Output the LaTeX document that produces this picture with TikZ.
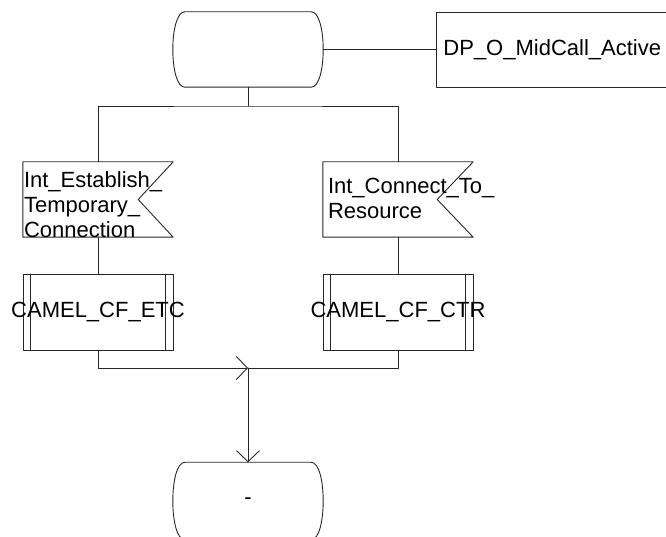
\documentclass[tikz,border=0pt]{standalone}
\usepackage{fontspec}
\setmainfont{Liberation Sans}
\usetikzlibrary{arrows.meta}

\begin{document}
\begin{tikzpicture}[x=1pt,y=1pt,line cap=round,line join=round,
  font=\fontsize{22}{25}\selectfont,
  line/.style={draw=black!85,line width=0.9pt},
  state/.style={minimum width=150pt,minimum height=75pt,inner sep=0pt},
  task/.style={line,minimum height=75pt,inner xsep=7pt,inner ysep=0pt,align=left},
  sigbox/.style={minimum width=150pt,minimum height=75pt,inner sep=0pt},
  sigtext/.style={inner sep=0pt,align=left},
  proc/.style={line,minimum width=150pt,minimum height=76pt,inner sep=0pt,
    path picture={\draw[line]
      ([xshift=7.5pt]path picture bounding box.north west) -- ([xshift=7.5pt]path picture bounding box.south west)
      ([xshift=-7.5pt]path picture bounding box.north east) -- ([xshift=-7.5pt]path picture bounding box.south east);}},
  arr/.style={-{Straight Barb[length=11pt,width=23pt]}}]
\useasboundingbox (0,0) rectangle (666,537);
\clip (0,0) rectangle (666,537);
% states and decision point
\node[state] (start) at (248,487.5) {};
\draw[line] ([xshift=12pt]start.north west) -- ([xshift=-12pt]start.north east)
  .. controls ([xshift=4pt]start.north east) and ([xshift=4pt]start.south east) .. ([xshift=-12pt]start.south east)
  -- ([xshift=12pt]start.south west)
  .. controls ([xshift=-4pt]start.south west) and ([xshift=-4pt]start.north west) .. cycle;
\node[task,anchor=west,text width=230pt] (dp) at (436,487.5) {DP\_O\_MidCall\_Active};
\node[state,minimum height=77pt] (endst) at (248,36) {-};
\draw[line] ([xshift=12pt]endst.north west) -- ([xshift=-12pt]endst.north east)
  .. controls ([xshift=4pt]endst.north east) and ([xshift=4pt]endst.south east) .. ([xshift=-12pt]endst.south east)
  -- ([xshift=12pt]endst.south west)
  .. controls ([xshift=-4pt]endst.south west) and ([xshift=-4pt]endst.north west) .. cycle;
% input signals
\node[sigbox] (etc) at (98,337.5) {};
\draw[line] (etc.north west) -- (etc.north east) -- ([xshift=-35pt]etc.east) -- (etc.south east) -- (etc.south west) -- cycle;
\node[sigtext,anchor=west] (etctxt) at ([xshift=1pt,yshift=-5pt]etc.west) {Int\_Establish\_\\Temporary\_\\Connection};
\node[sigbox] (ctr) at (398,337.5) {};
\draw[line] (ctr.north west) -- (ctr.north east) -- ([xshift=-36pt]ctr.east) -- (ctr.south east) -- (ctr.south west) -- cycle;
\node[sigtext,anchor=west] (ctrtxt) at ([xshift=5pt,yshift=1pt]ctr.west) {Int\_Connect\_To\_\\Resource};
% procedure calls
\node[proc] (petc) at (98,225) {\makebox[0pt]{CAMEL\_CF\_ETC}};
\node[proc] (pctr) at (398,225) {\makebox[0pt]{CAMEL\_CF\_CTR}};
% connectors
\coordinate (fork) at (248,431);
\coordinate (merge) at (248,169);
\draw[line] (start.east) -- (dp.west);
\draw[line] (start.south) -- (fork);
\draw[line] (etc.north) |- (fork) -| (ctr.north);
\draw[line] (etc.south) -- (petc.north);
\draw[line] (ctr.south) -- (pctr.north);
\draw[line,arr] (petc.south) |- (merge);
\draw[line] (pctr.south) |- (merge);
\draw[line,arr] (merge) -- (endst.north);
\end{tikzpicture}
\end{document}
